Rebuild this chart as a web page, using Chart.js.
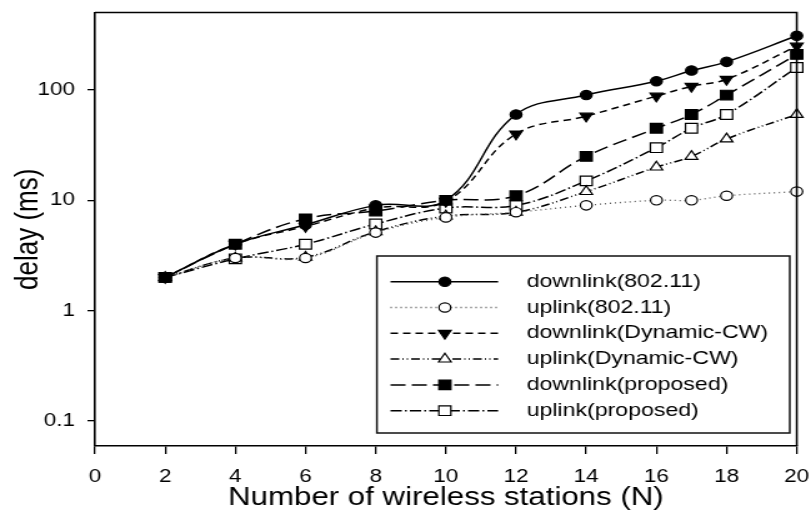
<!DOCTYPE html>
<html>
<head>
<meta charset="utf-8">
<script src="https://cdn.jsdelivr.net/npm/chart.js@4.4.1/dist/chart.umd.min.js"></script>
<style>
  html, body { margin: 0; padding: 0; background: #fff; }
  #c { display: block; }
</style>
</head>
<body>
<!-- the drawing surface is widened horizontally to the page width -->
<canvas id="c" width="649" height="513" style="width:811px;height:513px"></canvas>
<script>
// Number of wireless stations (x values)
const stations = [2, 4, 6, 8, 10, 12, 14, 16, 17, 18, 20];

// Delay in ms for each scheme
const downlink80211   = [2, 4, 6, 9, 10, 60, 90, 120, 150, 180, 310];
const uplink80211     = [2, 3, 3, 5.1, 7, 7.8, 9, 10, 10, 11, 12];
const downlinkDynCW   = [2, 4, 5.8, 8.5, 9.8, 40, 58, 88, 108, 125, 250];
const uplinkDynCW     = [2, 3, 3.05, 5.2, 7.2, 7.8, 12, 20, 25, 36, 60];
const downlinkPropose = [2, 4, 6.8, 8, 10, 11, 25, 45, 60, 90, 210];
const uplinkPropose   = [2, 2.95, 4, 6.1, 8.5, 9, 15, 30, 45, 60, 160];

// Axis ticks
const yTickValues = [0.1, 1, 10, 100];
const xTickStep = 2;

Chart.defaults.font.family = '"Liberation Sans", Arial, Helvetica, sans-serif';
Chart.defaults.color = '#000';

const toPoints = (ys) => ys.map((y, i) => ({ x: stations[i], y }));

function series(label, values, style) {
  return Object.assign({
    label,
    data: toPoints(values),
    borderColor: '#000',
    borderWidth: 1.5,
    tension: 0.4,
    fill: false,
    clip: false,
    pointBorderColor: '#000',
    pointBorderWidth: 1.2,
    pointRotation: 0
  }, style);
}

const datasets = [
  series('downlink(802.11)', downlink80211, {
    borderDash: [], pointStyle: 'circle', pointRadius: 4.7, pointBackgroundColor: '#000'
  }),
  series('uplink(802.11)', uplink80211, {
    borderColor: '#555', borderWidth: 1.3, borderDash: [1, 3],
    pointStyle: 'circle', pointRadius: 4.7, pointBackgroundColor: '#fff'
  }),
  series('downlink(Dynamic-CW)', downlinkDynCW, {
    borderDash: [6, 4], pointStyle: 'triangle', pointRotation: 180,
    pointRadius: 5.8, pointBackgroundColor: '#000'
  }),
  series('uplink(Dynamic-CW)', uplinkDynCW, {
    borderDash: [7, 2.5, 1, 2.5, 1, 2.5], pointStyle: 'triangle',
    pointRadius: 5.8, pointBackgroundColor: '#fff'
  }),
  series('downlink(proposed)', downlinkPropose, {
    borderDash: [12, 5], pointStyle: 'rect', pointRadius: 6.8, pointBackgroundColor: '#000'
  }),
  series('uplink(proposed)', uplinkPropose, {
    borderDash: [9, 2.5, 1.5, 2.5], pointStyle: 'rect', pointRadius: 6.8, pointBackgroundColor: '#fff'
  })
];

// Closes the plot box on the top and right sides
const frameBox = {
  id: 'frameBox',
  afterDatasetsDraw(chart) {
    const { ctx, chartArea: a } = chart;
    ctx.save();
    ctx.strokeStyle = '#000';
    ctx.lineWidth = 1.6;
    ctx.beginPath();
    ctx.moveTo(a.left, a.top);
    ctx.lineTo(a.right, a.top);
    ctx.lineTo(a.right, a.bottom);
    ctx.stroke();
    ctx.restore();
  }
};

function drawMarker(ctx, ds, x, y) {
  ctx.setLineDash([]);
  ctx.fillStyle = ds.pointBackgroundColor;
  ctx.strokeStyle = ds.pointBorderColor;
  ctx.lineWidth = ds.pointBorderWidth;
  const opts = {
    pointStyle: ds.pointStyle, rotation: ds.pointRotation || 0,
    radius: ds.pointRadius, borderWidth: ds.pointBorderWidth
  };
  if (Chart.helpers && Chart.helpers.drawPoint) {
    Chart.helpers.drawPoint(ctx, opts, x, y);
    return;
  }
  const r = ds.pointRadius;
  ctx.beginPath();
  if (ds.pointStyle === 'circle') {
    ctx.arc(x, y, r, 0, Math.PI * 2);
  } else if (ds.pointStyle === 'rect') {
    const s = r * Math.SQRT1_2;
    ctx.rect(x - s, y - s, 2 * s, 2 * s);
  } else {
    let rad = (opts.rotation * Math.PI) / 180;
    ctx.moveTo(x + Math.sin(rad) * r, y - Math.cos(rad) * r);
    rad += 2 * Math.PI / 3;
    ctx.lineTo(x + Math.sin(rad) * r, y - Math.cos(rad) * r);
    rad += 2 * Math.PI / 3;
    ctx.lineTo(x + Math.sin(rad) * r, y - Math.cos(rad) * r);
    ctx.closePath();
  }
  ctx.fill();
  ctx.stroke();
}

// Boxed legend inside the plot: line sample + marker + label per series
const boxedLegend = {
  id: 'boxedLegend',
  afterDraw(chart) {
    const ctx = chart.ctx;
    const box = { left: 301.6, top: 256, right: 632, bottom: 433 };
    const firstRow = 281.7, rowGap = 25.8;
    const lineFrom = 312.5, lineTo = 398.6, markerX = 356, textX = 421.4;

    ctx.save();
    ctx.fillStyle = '#fff';
    ctx.fillRect(box.left, box.top, box.right - box.left, box.bottom - box.top);
    ctx.strokeStyle = '#111';
    ctx.lineWidth = 1.5;
    ctx.setLineDash([]);
    ctx.strokeRect(box.left, box.top, box.right - box.left, box.bottom - box.top);

    chart.data.datasets.forEach((ds, i) => {
      const y = firstRow + i * rowGap;
      ctx.setLineDash(ds.borderDash || []);
      ctx.strokeStyle = ds.borderColor;
      ctx.lineWidth = ds.borderWidth;
      ctx.beginPath();
      ctx.moveTo(lineFrom, y);
      ctx.lineTo(lineTo, y);
      ctx.stroke();
      drawMarker(ctx, ds, markerX, y);
      ctx.fillStyle = '#000';
      ctx.font = '18.5px "Liberation Sans", Arial, sans-serif';
      ctx.textBaseline = 'middle';
      ctx.textAlign = 'left';
      ctx.fillText(ds.label, textX, y);
    });
    ctx.restore();
  }
};

new Chart(document.getElementById('c'), {
  type: 'line',
  data: { datasets },
  options: {
    responsive: false,
    animation: false,
    devicePixelRatio: 1,
    layout: { padding: { left: 0, top: 12.5, right: 11.4, bottom: 0 } },
    plugins: { legend: { display: false }, tooltip: { enabled: false } },
    scales: {
      x: {
        type: 'linear',
        position: 'bottom',
        min: 0,
        max: 20,
        ticks: {
          stepSize: xTickStep, color: '#000', font: { size: 18 },
          padding: 12, maxRotation: 0, autoSkip: false
        },
        grid: { drawOnChartArea: false, drawTicks: true, tickLength: 8, color: '#000', lineWidth: 1.3 },
        border: { display: true, color: '#000', width: 1.6 },
        title: {
          display: true, text: 'Number of wireless stations (N)', color: '#000',
          font: { size: 25 }, padding: { top: 0, bottom: 0 }
        },
        afterFit(scale) {
          scale.height = 67;
          scale.paddingLeft = 0;
          scale.paddingRight = 0;
        }
      },
      y: {
        type: 'logarithmic',
        min: 0.0593,
        max: 504,
        ticks: {
          color: '#000', font: { size: 18 }, padding: 10,
          callback: (v) => (yTickValues.includes(v) ? String(v) : '')
        },
        afterBuildTicks(scale) { scale.ticks = yTickValues.map((v) => ({ value: v })); },
        grid: { drawOnChartArea: false, drawTicks: true, tickLength: 6, color: '#000', lineWidth: 1.3 },
        border: { display: true, color: '#000', width: 1.6 },
        title: {
          display: true, text: 'delay (ms)', color: '#000',
          font: { size: 26 }, padding: { top: 7, bottom: 0 }
        },
        afterFit(scale) {
          scale.width = 76;
          scale.paddingTop = 0;
          scale.paddingBottom = 0;
        }
      }
    }
  },
  plugins: [frameBox, boxedLegend]
});
</script>
</body>
</html>
